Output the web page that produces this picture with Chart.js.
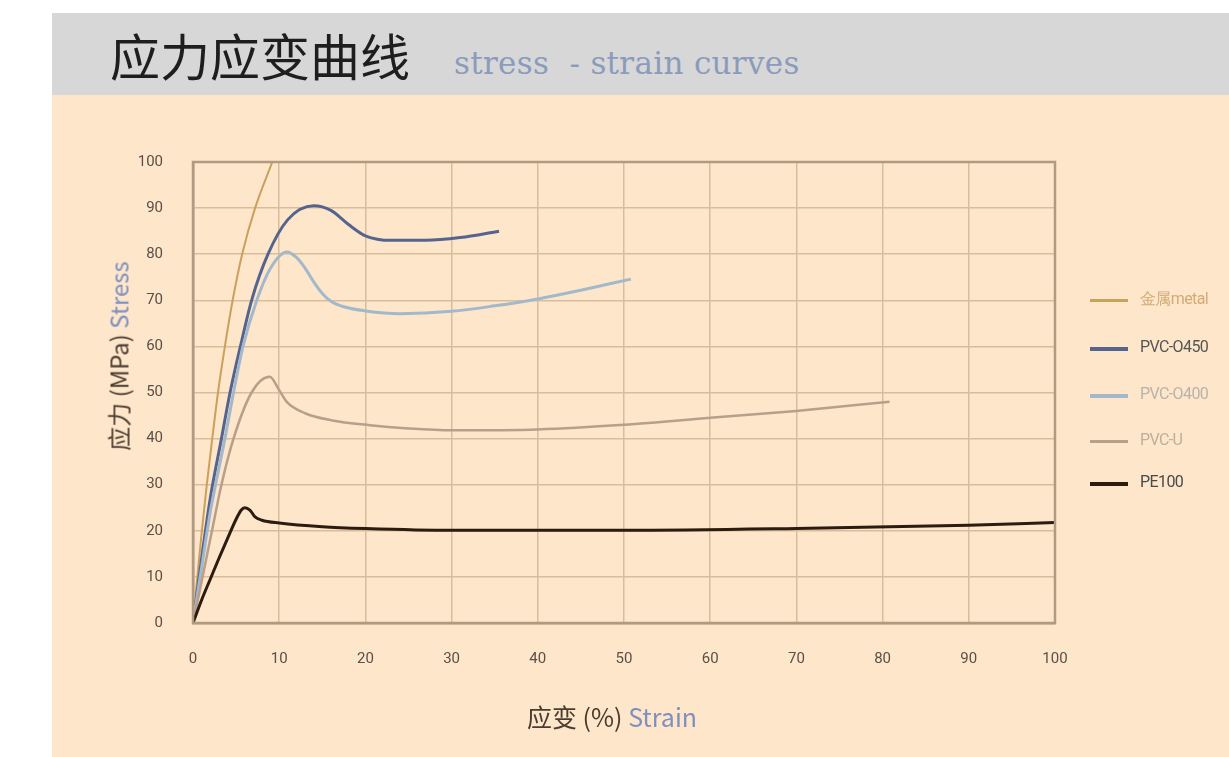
<!DOCTYPE html>
<html>
<head>
<meta charset="utf-8">
<script src="https://cdn.jsdelivr.net/npm/chart.js@4/dist/chart.umd.min.js"></script>
<style>
  html, body { margin: 0; padding: 0; background: #ffffff; overflow: hidden; width: 1229px; height: 757px; }
  #header { position: absolute; left: 52px; top: 13px; width: 1177px; height: 82px; background: #d7d7d7; }
  #title-cn { position: absolute; left: 110px; top: 18px; font: 50px "Noto Sans CJK SC", sans-serif; color: #1e1e1e; white-space: nowrap; }
  #title-en { position: absolute; left: 454px; top: 45px; font: 31px "DejaVu Serif", serif; color: #8b9bbd; white-space: nowrap; letter-spacing: 0.3px; }
  #panel { position: absolute; left: 52px; top: 95px; width: 1177px; height: 662px; background: #fde6c9; }
  #chart-box { position: absolute; left: 52px; top: 95px; width: 1177px; height: 662px; }
  #x-title { position: absolute; left: 612px; top: 698px; transform: translateX(-50%); font: 25px "Noto Sans CJK SC", sans-serif; color: #4a3c30; white-space: nowrap; }
  #y-title { position: absolute; left: 118px; top: 356px; font: 24px "Noto Sans CJK SC", sans-serif; color: #4a3c30; white-space: nowrap;
             transform: translate(-50%, -50%) rotate(-90deg); }
  .en { color: #7f8fbf; }
  #legend { position: absolute; left: 1090px; top: 288px; }
  .item { position: absolute; left: 0; height: 24px; white-space: nowrap; font: 16px "Roboto", sans-serif; letter-spacing: -0.6px; }
  .item .swatch { position: absolute; left: 0; top: 11px; width: 38px; }
  .item .label { position: absolute; left: 50px; top: 1px; }
</style>
</head>
<body>
<div id="header"></div>
<div id="title-cn">应力应变曲线</div>
<div id="title-en">stress &nbsp;- strain curves</div>
<div id="panel"></div>
<div id="chart-box"><canvas id="ssChart"></canvas></div>
<div id="x-title">应变 (%) <span class="en">Strain</span></div>
<div id="y-title">应力 (MPa) <span class="en">Stress</span></div>
<div id="legend"></div>

<script>
// axis ticks
const strainTicks = [0, 10, 20, 30, 40, 50, 60, 70, 80, 90, 100];
const stressTicks = [0, 10, 20, 30, 40, 50, 60, 70, 80, 90, 100];

// series names
const seriesNames = ['金属metal', 'PVC-O450', 'PVC-O400', 'PVC-U', 'PE100'];

// 金属 metal
const metalStrain = [0, 0.5, 1, 1.6, 2.2, 2.9, 3.7, 4.6, 5.7, 7.2, 9.2];
const metalStress = [0, 10, 19.5, 30, 39.5, 50, 60, 70, 80, 90, 100];

// PVC-O 450
const pvcO450Strain = [0, 1, 2, 3.3, 4.3, 5.5, 6.8, 8.7, 11, 14, 16, 18, 20, 23, 27, 31, 35.5];
const pvcO450Stress = [0, 14, 27, 40, 50, 60, 70, 80, 87.5, 90.5, 89.5, 86.5, 84, 83, 83, 83.6, 85];

// PVC-O 400
const pvcO400Strain = [0, 1, 2, 3.7, 4.7, 5.8, 7.4, 9, 10.9, 12, 13, 14, 15, 16, 17.5, 20, 24, 30, 35, 40, 45, 50.8];
const pvcO400Stress = [0, 12, 24, 40, 50, 60, 70, 77, 80.5, 79.3, 77, 74, 71.5, 69.8, 68.6, 67.7, 67.1, 67.6, 68.8, 70.3, 72.2, 74.6];

// PVC-U
const pvcUStrain = [0, 1, 2.2, 3.3, 4.7, 6.8, 8.9, 10, 10.9, 13, 16, 20.5, 25, 30, 40, 50, 60, 70, 80.8];
const pvcUStress = [0, 9, 20, 30, 40, 50, 53.4, 50.5, 47.9, 45.5, 44, 42.9, 42.2, 41.8, 42, 43, 44.5, 46, 48];

// PE100
const pe100Strain = [0, 1, 2, 3, 4, 5, 5.6, 6, 6.6, 7.2, 8, 10, 15, 20, 30, 50, 70, 90, 100];
const pe100Stress = [0, 5, 9.5, 14, 18.3, 22.5, 24.5, 25, 24.5, 23, 22.3, 21.7, 20.9, 20.5, 20.1, 20.1, 20.5, 21.2, 21.8];

const lineColors = ['#c9a15c', '#55648f', '#a3b9cb', '#b99e8a', '#2c1b11'];
const labelColors = ['#d2ab78', '#555555', '#b9b2aa', '#bfae9e', '#4a4a4a'];
const lineWidths = [2, 3, 3, 2.5, 3];

function toPoints(xs, ys) {
    return xs.map((x, i) => ({ x: x, y: ys[i] }));
}

const seriesData = [
    toPoints(metalStrain, metalStress),
    toPoints(pvcO450Strain, pvcO450Stress),
    toPoints(pvcO400Strain, pvcO400Stress),
    toPoints(pvcUStrain, pvcUStress),
    toPoints(pe100Strain, pe100Stress)
];

// 畫在後面的先放，PE100 在最上層
const datasets = seriesData.map((pts, i) => ({
    label: seriesNames[i],
    data: pts,
    showLine: true,
    borderColor: lineColors[i],
    backgroundColor: lineColors[i],
    borderWidth: lineWidths[i],
    pointRadius: 0,
    cubicInterpolationMode: 'monotone',
    fill: false,
    order: 5 - i
}));

const tickFont = { family: 'Roboto', size: 15 };

const ctx = document.getElementById('ssChart').getContext('2d');
new Chart(ctx, {
    type: 'scatter',
    data: { datasets: datasets },
    options: {
        responsive: true,
        maintainAspectRatio: false,
        animation: false,
        layout: { padding: { left: 30, right: 174, top: 67, bottom: 24 } },
        plugins: { legend: { display: false }, tooltip: { enabled: false } },
        scales: {
            x: {
                type: 'linear',
                min: 0, max: 100,
                afterBuildTicks: s => { s.ticks = strainTicks.map(v => ({ value: v })); },
                afterFit: s => { s.height = 110; },
                grid: { color: '#d8bd9d', lineWidth: 1.5, drawTicks: false },
                border: { color: '#b29a82', width: 2.5 },
                ticks: { padding: 27, color: '#5a5048', font: tickFont }
            },
            y: {
                type: 'linear',
                min: 0, max: 100,
                afterBuildTicks: s => { s.ticks = stressTicks.map(v => ({ value: v })); },
                afterFit: s => { s.width = 111; },
                grid: { color: '#d8bd9d', lineWidth: 1.5, drawTicks: false },
                border: { color: '#b29a82', width: 2.5 },
                ticks: { padding: 30, color: '#5a5048', font: tickFont }
            }
        }
    },
    plugins: [{
        id: 'frame',
        afterDatasetsDraw(chart) {
            const a = chart.chartArea;
            const c = chart.ctx;
            c.save();
            c.strokeStyle = '#b29a82';
            c.lineWidth = 2.5;
            c.strokeRect(a.left, a.top, a.right - a.left, a.bottom - a.top);
            c.restore();
        }
    }]
});

// legend
const legend = document.getElementById('legend');
const legendTops = [0, 48, 95, 141, 183];
seriesNames.forEach((name, i) => {
    const item = document.createElement('div');
    item.className = 'item';
    item.style.top = legendTops[i] + 'px';
    item.innerHTML = `<div class="swatch" style="border-top:${Math.max(3, lineWidths[i] + 1)}px solid ${lineColors[i]}"></div>` +
                     `<div class="label" style="color:${labelColors[i]}">${name}</div>`;
    legend.appendChild(item);
});
</script>
</body>
</html>
